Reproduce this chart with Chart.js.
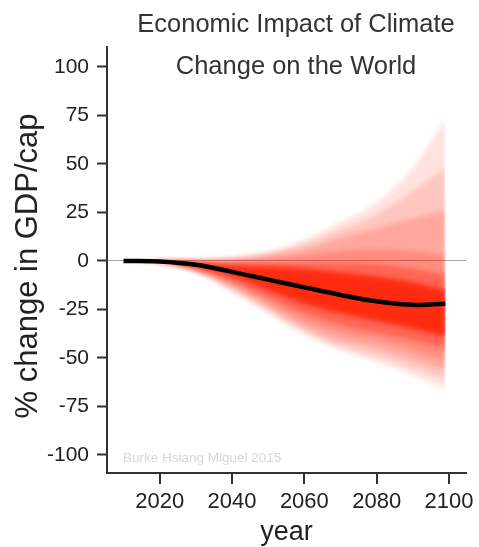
<!DOCTYPE html>
<html>
<head>
<meta charset="utf-8">
<title>Economic Impact of Climate Change on the World</title>
<script src="https://cdn.jsdelivr.net/npm/chart.js@4.4.1/dist/chart.umd.min.js"></script>
<style>
  body { margin: 0; background: #fff; }
  canvas { display: block; }
</style>
</head>
<body>
<canvas id="impactChart" width="479" height="547"></canvas>
<script>
// Data (percent change in GDP per capita)
const years = [2010, 2020, 2030, 2040, 2050, 2060, 2070, 2080, 2090, 2099];
const median = [0, -0.3, -2, -5.6, -9.6, -13.6, -17.5, -20.8, -22.6, -22];

// shaded band edges, outermost band first
const b1hi = [0, 0.2, 0.8, 2, 5, 11, 20, 30, 48, 73];
const b1lo = [0, -1, -6, -16, -27, -38, -46, -52, -59, -66];
const b2hi = [0, 0.15, 0.5, 1.5, 4, 9, 16, 24, 36, 48];
const b2lo = [0, -0.9, -5.5, -15, -25.5, -36, -44, -49, -55, -61];
const b3hi = [0, 0.1, 0.3, 1, 3, 6, 12, 17, 22, 26];
const b3lo = [0, -0.8, -5, -13.5, -23.5, -34, -41, -45, -51, -56];
const b4hi = [0, 0, 0, 0, 1, 3, 5, 6, 5, 3];
const b4lo = [0, -0.7, -4.5, -12, -21.5, -31, -37, -41, -46, -51];
const b5hi = [0, -0.1, -0.5, -1, -1, -1, -1, -1.5, -4, -7];
const b5lo = [0, -0.6, -4, -10.5, -19, -27, -33, -37, -41, -45];
const b6hi = [0, -0.2, -1, -2.5, -3, -4, -6, -8, -11, -15];
const b6lo = [0, -0.5, -3, -8, -15, -22, -27, -31, -35, -39];

const xTicks = [2020, 2040, 2060, 2080, 2100];
const yTicks = [-100, -75, -50, -25, 0, 25, 50, 75, 100];
const titleLines = ["Economic Impact of Climate", "Change on the World"];
const xTitle = "year";
const yTitle = "% change in GDP/cap";
const credit = "Burke Hsiang Miguel 2015";

const toPoints = (vals) => vals.map((v, i) => ({ x: years[i], y: v }));

// one band = lower edge + upper edge filled down to it
function band(lo, hi, alpha) {
    const base = {
        borderWidth: 0,
        pointRadius: 0,
        cubicInterpolationMode: 'monotone'
    };
    return [
        Object.assign({}, base, { data: toPoints(lo), fill: false }),
        Object.assign({}, base, { data: toPoints(hi), fill: '-1', backgroundColor: `rgba(255,30,0,${alpha})` })
    ];
}

const datasets = [
    {
        data: toPoints(median),
        borderColor: '#000',
        borderWidth: 4.5,
        pointRadius: 0,
        tension: 0.4,
        fill: false
    },
    ...band(b1lo, b1hi, 0.13),
    ...band(b2lo, b2hi, 0.14),
    ...band(b3lo, b3hi, 0.18),
    ...band(b4lo, b4hi, 0.2),
    ...band(b5lo, b5hi, 0.35),
    ...band(b6lo, b6hi, 0.8)
];

// soften the fan edges; the median line (index 0) is drawn last, unblurred
const softFan = {
    id: 'softFan',
    beforeDatasetsDraw(chart) {
        chart.ctx.save();
        chart.ctx.filter = 'blur(2.5px)';
    },
    afterDatasetDraw(chart, args) {
        if (args.index === 1) chart.ctx.filter = 'none';
    },
    afterDatasetsDraw(chart) {
        chart.ctx.restore();
    }
};

const font = '"Liberation Sans", Arial, sans-serif';

// title, axis titles and credit text
const textPlugin = {
    id: 'texts',
    afterDraw(chart) {
        const ctx = chart.ctx;
        const area = chart.chartArea;
        ctx.save();
        ctx.fillStyle = '#333';
        ctx.textAlign = 'center';
        ctx.font = '25.5px ' + font;
        ctx.fillText(titleLines[0], 296, 32);
        ctx.fillText(titleLines[1], 296, 74);

        ctx.fillStyle = '#222';
        ctx.font = '27px ' + font;
        ctx.fillText(xTitle, (area.left + area.right) / 2, 540);

        ctx.save();
        ctx.translate(28, 266);
        ctx.rotate(-Math.PI / 2);
        ctx.textBaseline = 'middle';
        ctx.font = '31px ' + font;
        ctx.fillText(yTitle, 0, 0);
        ctx.restore();

        ctx.textAlign = 'left';
        ctx.fillStyle = '#d6d6d6';
        ctx.font = '13.5px ' + font;
        ctx.fillText(credit, area.left + 16, 462);
        ctx.restore();
    }
};

new Chart(document.getElementById('impactChart'), {
    type: 'line',
    data: { datasets: datasets },
    plugins: [softFan, textPlugin],
    options: {
        responsive: false,
        animation: false,
        layout: { padding: { left: 0, top: 47, right: 11, bottom: 0 } },
        plugins: {
            legend: { display: false },
            title: { display: false },
            tooltip: { enabled: false }
        },
        scales: {
            x: {
                type: 'linear',
                min: 2005.43,
                max: 2104.67,
                afterBuildTicks: (scale) => { scale.ticks = xTicks.map(v => ({ value: v })); },
                afterFit: (scale) => { scale.height = 74; },
                border: { display: true, color: '#333', width: 2 },
                grid: { drawOnChartArea: false, tickColor: '#333', tickLength: 11, lineWidth: 2 },
                ticks: {
                    color: '#222',
                    font: { family: font, size: 22 },
                    padding: 5,
                    maxRotation: 0,
                    callback: (v) => String(v)
                }
            },
            y: {
                min: -109.3,
                max: 110.3,
                z: 1,
                afterBuildTicks: (scale) => { scale.ticks = yTicks.map(v => ({ value: v })); },
                afterFit: (scale) => { scale.width = 107; },
                border: { display: true, color: '#333', width: 2 },
                grid: {
                    color: (c) => (c.tick && c.tick.value === 0 ? 'rgba(0,0,0,0.35)' : 'rgba(0,0,0,0)'),
                    lineWidth: 1,
                    tickColor: '#333',
                    tickWidth: 2,
                    tickLength: 10
                },
                ticks: {
                    color: '#222',
                    font: { family: font, size: 21 },
                    padding: 8,
                    callback: (v) => String(v)
                }
            }
        }
    }
});
</script>
</body>
</html>
